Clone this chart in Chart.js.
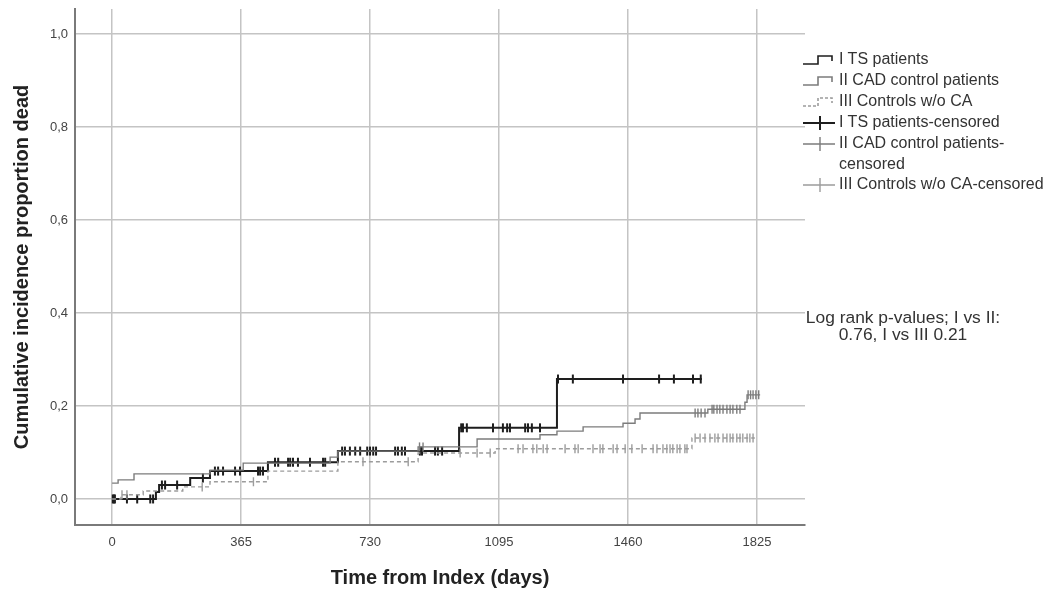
<!DOCTYPE html>
<html>
<head>
<meta charset="utf-8">
<script src="https://cdn.jsdelivr.net/npm/chart.js@4.4.0/dist/chart.umd.min.js"></script>
<style>
  body { margin: 0; background: #fff; font-family: "Liberation Sans", Arial, sans-serif; }
  #wrap { position: relative; width: 1052px; height: 592px; }
  #legend { position: absolute; left: 803px; top: 49px; font-size: 16px; color: #333; }
  .row { display: flex; align-items: flex-start; line-height: 20.6px; }
  .row svg { flex: none; margin-right: 2px; }
  #logrank { position: absolute; left: 803px; top: 309px; width: 200px; text-align: center;
             font-size: 17.4px; line-height: 17px; color: #333; }
</style>
</head>
<body>
<div id="wrap">
  <canvas id="km" width="1052" height="592"></canvas>
  <div id="legend"></div>
  <div id="logrank">Log rank p-values; I vs II:<br>0.76, I vs III 0.21</div>
</div>
<script>
// step points: value holds from that day on (last entry = end of follow-up)
var tsDays = [0, 124, 133, 221, 277, 441, 639, 982, 1259, 1669];
var tsProp = [0, 0.015, 0.030, 0.045, 0.060, 0.079, 0.103, 0.153, 0.258, 0.258];

var cadDays = [0, 17, 62, 277, 371, 617, 639, 866, 1033, 1211, 1259, 1333, 1446, 1480, 1494, 1686, 1791, 1797, 1834];
var cadProp = [0.034, 0.041, 0.054, 0.062, 0.077, 0.090, 0.103, 0.112, 0.129, 0.138, 0.146, 0.155, 0.163, 0.172, 0.185, 0.193, 0.208, 0.224, 0.224];

var ctlDays = [0, 25, 88, 200, 277, 441, 639, 866, 1084, 1641, 1819];
var ctlProp = [0, 0.009, 0.017, 0.026, 0.037, 0.060, 0.080, 0.099, 0.108, 0.131, 0.131];

// censored cases (days)
var tsCensor = [2, 5, 8, 42, 71, 108, 116, 141, 150, 184, 257, 291, 300, 314, 348, 362, 413, 419, 427,
  461, 470, 498, 504, 512, 526, 560, 597, 603, 651, 659, 673, 688, 702, 722, 730, 739, 747, 801, 809,
  820, 829, 871, 877, 914, 922, 934, 988, 993, 1004, 1078, 1106, 1118, 1126, 1169, 1177, 1188, 1211,
  1262, 1304, 1446, 1548, 1590, 1644, 1666];
var cadCensor = [870, 880, 1650, 1658, 1667, 1678, 1698, 1703, 1712, 1720, 1729, 1740, 1749, 1757,
  1768, 1777, 1800, 1807, 1814, 1822, 1830];
var ctlCensor = [28, 42, 255, 400, 710, 838, 985, 1033, 1070, 1149, 1163, 1191, 1202, 1220, 1231, 1282,
  1310, 1319, 1361, 1381, 1389, 1418, 1429, 1452, 1471, 1500, 1531, 1542, 1559, 1570, 1579, 1587,
  1599, 1607, 1621, 1627, 1650, 1664, 1678, 1692, 1706, 1715, 1729, 1740, 1749, 1757, 1768, 1777,
  1785, 1797, 1805, 1814];

var xTicks = [0, 365, 730, 1095, 1460, 1825];
var yTicks = [0, 0.2, 0.4, 0.6, 0.8, 1.0];

var groupNames = ['I TS patients', 'II CAD control patients', 'III Controls w/o CA'];

function stepAt(days, prop, t) {
  var v = prop[0];
  for (var i = 0; i < days.length; i++) { if (days[i] <= t) v = prop[i]; }
  return v;
}
function curve(days, prop) {
  return days.map(function (d, i) { return { x: d, y: prop[i] }; });
}
function marks(cens, days, prop) {
  return cens.map(function (d) { return { x: d, y: stepAt(days, prop, d) }; });
}

var black = '#1e1e1e', gray = '#7c7c7c', light = '#9c9c9c';

function censorSet(data, color, w) {
  return { type: 'scatter', data: data, showLine: false, pointStyle: 'line', rotation: 90,
           pointRadius: 4.5, borderColor: color, pointBorderWidth: w, backgroundColor: color };
}

new Chart(document.getElementById('km'), {
  type: 'line',
  data: {
    datasets: [
      censorSet(marks(ctlCensor, ctlDays, ctlProp), light, 1.4),
      censorSet(marks(cadCensor, cadDays, cadProp), gray, 1.4),
      { label: groupNames[2], data: curve(ctlDays, ctlProp), stepped: true, borderColor: light,
        borderWidth: 1.4, borderDash: [4, 3], pointRadius: 0 },
      { label: groupNames[1], data: curve(cadDays, cadProp), stepped: true, borderColor: gray,
        borderWidth: 1.4, pointRadius: 0 },
      { label: groupNames[0], data: curve(tsDays, tsProp), stepped: true, borderColor: black,
        borderWidth: 2, pointRadius: 0 },
      censorSet(marks(tsCensor, tsDays, tsProp), black, 2)
    ]
  },
  options: {
    responsive: false,
    animation: false,
    layout: { padding: { top: 9, right: 247, left: 0, bottom: 0 } },
    plugins: { legend: { display: false }, tooltip: { enabled: false } },
    scales: {
      x: {
        type: 'linear', min: -105, max: 1961,
        afterBuildTicks: function (s) { s.ticks = xTicks.map(function (v) { return { value: v }; }); },
        afterFit: function (s) { s.height = 67; },
        ticks: { font: { size: 13, family: 'Liberation Sans' }, color: '#444', padding: 10,
                 callback: function (v) { return String(v); } },
        grid: { color: '#c4c4c4', lineWidth: 1.5, drawTicks: false },
        border: { color: '#7a7a7a', width: 2 },
        title: { display: true, text: 'Time from Index (days)', color: '#222',
                 font: { size: 20, weight: 'bold', family: 'Liberation Sans' }, padding: { top: 0, bottom: 2 } }
      },
      y: {
        min: -0.056, max: 1.054,
        afterBuildTicks: function (s) { s.ticks = yTicks.map(function (v) { return { value: v }; }); },
        afterFit: function (s) { s.width = 75; s.paddingTop = 0; s.paddingBottom = 0; },
        ticks: { font: { size: 13, family: 'Liberation Sans' }, color: '#444', padding: 7,
                 callback: function (v) { return v.toFixed(1).replace('.', ','); } },
        grid: { color: '#c4c4c4', lineWidth: 1.5, drawTicks: false },
        border: { color: '#7a7a7a', width: 2 },
        title: { display: true, text: 'Cumulative incidence proportion dead', color: '#222',
                 font: { size: 20, weight: 'bold', family: 'Liberation Sans' }, padding: { top: 10, bottom: 0 } }
      }
    }
  }
});

// legend (SPSS style)
var stepIcon = function (color, dash) {
  return '<svg width="34" height="21"><path d="M0 15 H15 V7 H29 V12" fill="none" stroke="' + color +
    '" stroke-width="1.6"' + (dash ? ' stroke-dasharray="3 2"' : '') + '/></svg>';
};
var censorIcon = function (color, w) {
  return '<svg width="34" height="21"><path d="M0 11 H32 M17 4 V18" fill="none" stroke="' + color +
    '" stroke-width="' + w + '"/></svg>';
};
var legendRows = [
  [stepIcon(black), groupNames[0]],
  [stepIcon(gray), groupNames[1]],
  [stepIcon(light, true), groupNames[2]],
  [censorIcon(black, 2), groupNames[0] + '-censored'],
  [censorIcon(gray, 1.4), 'II CAD control patients-<br>censored'],
  [censorIcon(light, 1.4), groupNames[2] + '-censored']
];
document.getElementById('legend').innerHTML = legendRows.map(function (r) {
  return '<div class="row">' + r[0] + '<span>' + r[1] + '</span></div>';
}).join('');
</script>
</body>
</html>
